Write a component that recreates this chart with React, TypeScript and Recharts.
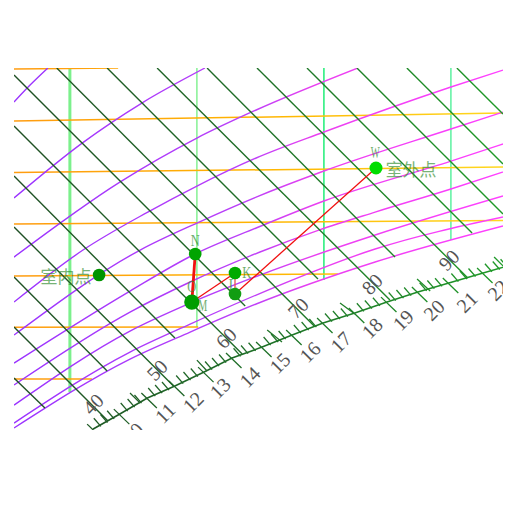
import { ComposedChart, Line, Scatter, XAxis, YAxis } from "recharts";

type Pair = [number, number];

// x = moisture content (g/kg), y = temperature (C)
const xDomain: Pair = [4.68, 16.23];
const yDomain: Pair = [5, 40];

const rhA: Pair[] = [[4.68, 36.71], [5.06, 38.35], [5.48, 40]];
const rhB: Pair[] = [[4.68, 27.43], [6.29, 32.74], [7.7, 36.61], [9.19, 40]];
const rhC: Pair[] = [[4.68, 21.72], [7.18, 28.97], [9, 33.23], [10.4, 35.94], [12.8, 40]];
const rhD: Pair[] = [[4.68, 17.37], [6.31, 22.4], [7.84, 26.07], [9, 28.59], [10.4, 31.3], [12, 33.81], [15, 38.16], [16.23, 39.8]];
const rhE: Pair[] = [[4.68, 14.18], [7.66, 22.4], [9, 25.01], [10.4, 27.52], [12, 30.04], [15, 34.1], [16.23, 35.74]];
const rhF: Pair[] = [[4.68, 11.47], [7.42, 18.43], [8.91, 21.92], [10.4, 24.53], [12, 27.14], [15, 31], [16.23, 32.65]];
const rhG: Pair[] = [[4.68, 9.35], [7.42, 16.4], [8.84, 19.31], [10.49, 22.21], [11.88, 24.33], [13.21, 26.07], [15, 28.3], [16.23, 29.94]];
const rhH: Pair[] = [[4.68, 7.41], [7.42, 14.57], [8.84, 17.27], [10.49, 19.98], [13.21, 23.85], [16.23, 27.62]];
const rhI: Pair[] = [[4.68, 5.67], [7.42, 12.54], [8.84, 15.24], [10.4, 18.05], [13.21, 22.5], [16.23, 25.59]];
const rhJ: Pair[] = [[4.68, 5.19], [7.42, 11.86], [8.84, 14.47], [10.4, 17.18], [13.21, 21.24], [16.23, 24.72]];
const rhCurves = [rhA, rhB, rhC, rhD, rhE, rhF, rhG, rhH, rhI, rhJ];

const enthalpyLines: Pair[][] = [
  [[4.68, 10.02], [5.41, 7.12]],
  [[4.68, 14.95], [6.9, 5.87]],
  [[4.68, 19.79], [6.88, 10.7]],
  [[4.68, 24.62], [8.46, 9.21]],
  [[4.68, 29.55], [8.48, 13.89]],
  [[4.68, 34.39], [10.07, 12.34]],
  [[4.68, 39.32], [10.14, 16.99]],
  [[5.69, 40], [11.77, 15.05]],
  [[6.88, 40], [11.86, 19.59]],
  [[8.06, 40], [13.56, 17.57]],
  [[9.24, 40], [13.68, 21.72]],
  [[10.42, 40], [15.4, 19.69]],
  [[11.6, 40], [15.5, 24.04]],
  [[12.78, 40], [16.23, 25.88]],
  [[13.96, 40], [16.23, 30.71]],
  [[15.14, 40], [16.23, 35.55]],
];

const tempLines: Pair[][] = [
  [[4.68, 39.9], [7.14, 40]],
  [[4.68, 34.87], [16.23, 35.64]],
  [[4.68, 29.89], [16.23, 30.42]],
  [[4.68, 24.91], [16.23, 25.25]],
  [[4.68, 19.88], [12.33, 20.08]],
  [[4.68, 14.93], [9.03, 14.95]],
  [[4.68, 9.93], [6.52, 9.93]],
];

const moistureLines: Pair[][] = [
  [[6, 40], [6, 8.67]],
  [[9, 40], [9, 14.95]],
  [[12, 40], [12, 19.5]],
  [[15, 40], [15, 23.37]],
];
const moistureColors = ["#7cf08c", "#7cf08c", "#1fee77", "#33ee88"];
const moistureWidths = [3, 1.4, 1.5, 1.2];

// saturation temperature scale: 9 to 23 C, one crossing per degree
const scalePoints: Pair[] = [
  [6.55, 5.09], [7.18, 6.54], [7.83, 8.09], [8.48, 9.25], [9.17, 10.6], [9.83, 11.96], [10.54, 13.02], [11.25, 14.18],
  [11.98, 15.34], [12.73, 16.31], [13.49, 17.37], [14.22, 18.34], [14.95, 19.21], [15.76, 20.18], [16.5, 21.05],
];
const longTicks: Pair[][] = [
  [[7.42, 8.57], [7.66, 7.6]],
  [[9, 11.76], [9.24, 10.7]],
  [[10.66, 14.66], [11.01, 13.5]],
  [[12.38, 17.27], [12.73, 16.21]],
  [[14.2, 19.59], [14.51, 18.43]],
  [[16.02, 21.72], [16.28, 20.66]],
];

const scaleLabels = ["10", "11", "12", "13", "14", "15", "16", "17", "18", "19", "20", "21", "22"];
const scaleLabelPos: Pair[] = [
  [7.49, 4.71], [8.25, 6.64], [8.91, 7.7], [9.55, 9.06], [10.25, 10.12], [10.96, 11.47], [11.67, 12.54],
  [12.4, 13.5], [13.14, 14.86], [13.87, 15.63], [14.6, 16.6], [15.38, 17.37], [16.11, 18.53],
];
const enthalpyLabels = ["40", "50", "60", "70", "80", "90"];
const enthalpyLabelPos: Pair[] = [[6.55, 7.51], [8.06, 10.8], [9.69, 13.89], [11.39, 16.79], [13.14, 19.11], [14.95, 21.43]];

// process points
const pointN: Pair = [8.96, 22.01];
const pointM: Pair = [8.88, 17.37];
const pointK: Pair = [9.9, 20.18];
const pointL: Pair = [9.9, 18.15];
const pointW: Pair = [13.23, 30.33];
const pointIn: Pair = [6.69, 19.98];

const pointNames = ["N", "O", "M", "L", "K", "W"];
const pointNamePos: Pair[] = [[8.96, 23.37], [8.88, 18.92], [9.14, 17.08], [9.85, 19.11], [10.18, 20.18], [13.21, 31.87]];
const placeNames = ["室内点", "室外点"];
const placeNamePos: Pair[] = [[5.91, 19.98], [14.06, 30.33]];

const toRows = (pairs: Pair[]) => pairs.map(([d, t]) => ({ d, t }));
const labelRows = (texts: string[], pos: Pair[]) => texts.map((text, i) => ({ d: pos[i][0], t: pos[i][1], text }));

// minor ticks sit on quarter degrees, majors on whole degrees
const scaleTicks: { major: boolean; seg: Pair[] }[] = [];
scalePoints.slice(0, -1).forEach((p, i) => {
  const q = scalePoints[i + 1];
  for (let k = 0; k < 4; k++) {
    const d = p[0] + ((q[0] - p[0]) * k) / 4;
    const t = p[1] + ((q[1] - p[1]) * k) / 4;
    if (k === 0) {
      scaleTicks.push({ major: true, seg: [[d - 0.142, t + 0.48], [d + 0.224, t - 0.97]] });
    } else {
      scaleTicks.push({ major: false, seg: [[d - 0.142, t + 0.68], [d + 0.024, t - 0.1]] });
    }
  }
});

const RotatedLabel = (props: any) => (
  <text
    x={props.cx}
    y={props.cy}
    textAnchor="middle"
    dominantBaseline="central"
    fontFamily="'Liberation Serif', serif"
    fontSize={20}
    fill="#555"
    transform={`rotate(-45 ${props.cx} ${props.cy})`}
  >
    {props.payload.text}
  </text>
);

const LetterLabel = (props: any) => (
  <text
    x={props.cx}
    y={props.cy}
    textAnchor="middle"
    dominantBaseline="central"
    fontFamily="'Liberation Serif', serif"
    fontSize={17}
    textLength={9}
    lengthAdjust="spacingAndGlyphs"
    fill="#2e8b2e"
    opacity={0.7}
  >
    {props.payload.text}
  </text>
);

const PlaceLabel = (props: any) => (
  <text
    x={props.cx}
    y={props.cy}
    textAnchor="middle"
    dominantBaseline="central"
    fontFamily="'Noto Sans CJK SC'"
    fontSize={17}
    fill="#2e8b2e"
    opacity={0.65}
  >
    {props.payload.text}
  </text>
);

const marker = (point: Pair, r: number, fill: string, key: string) => (
  <Scatter
    key={key}
    data={toRows([point])}
    isAnimationActive={false}
    shape={(p: any) => <circle cx={p.cx} cy={p.cy} r={r} fill={fill} />}
  />
);

const plainLine = (pairs: Pair[], stroke: string, width: number, key: string, type: any = "linear") => (
  <Line
    key={key}
    data={toRows(pairs)}
    dataKey="t"
    type={type}
    stroke={stroke}
    strokeWidth={width}
    dot={false}
    activeDot={false}
    isAnimationActive={false}
  />
);

export default function App() {
  return (
    <div style={{ position: "absolute", left: 14, top: 68, width: 489, height: 362, overflow: "hidden" }}>
      <ComposedChart width={489} height={362} margin={{ top: 0, right: 0, bottom: 0, left: 0 }}>
        <defs>
          <linearGradient id="rhStroke" gradientUnits="userSpaceOnUse" x1="0" y1="0" x2="489" y2="0">
            <stop offset="0" stopColor="#9a33ff" />
            <stop offset="0.48" stopColor="#bb40f8" />
            <stop offset="0.62" stopColor="#ea40f0" />
            <stop offset="1" stopColor="#ff40ff" />
          </linearGradient>
          <linearGradient id="tempStroke" gradientUnits="userSpaceOnUse" x1="0" y1="0" x2="489" y2="0">
            <stop offset="0" stopColor="#ff9c10" />
            <stop offset="0.5" stopColor="#ffb400" />
            <stop offset="1" stopColor="#ffd820" />
          </linearGradient>
          <linearGradient id="enthalpyStroke" gradientUnits="userSpaceOnUse" x1="0" y1="0" x2="489" y2="0">
            <stop offset="0" stopColor="#1f4f24" />
            <stop offset="0.5" stopColor="#1f7028" />
            <stop offset="1" stopColor="#1f9a28" />
          </linearGradient>
        </defs>
        <XAxis hide type="number" dataKey="d" domain={xDomain} allowDataOverflow />
        <YAxis hide type="number" dataKey="t" domain={yDomain} allowDataOverflow />

        {moistureLines.map((seg, i) => plainLine(seg, moistureColors[i], moistureWidths[i], `m${i}`))}
        {tempLines.map((seg, i) => plainLine(seg, "url(#tempStroke)", 1.5, `t${i}`))}
        {rhCurves.map((seg, i) => plainLine(seg, "url(#rhStroke)", 1.4, `rh${i}`, "monotone"))}
        {enthalpyLines.map((seg, i) => plainLine(seg, "url(#enthalpyStroke)", 1.4, `h${i}`))}

        {plainLine(scalePoints, "url(#enthalpyStroke)", 1.6, "scale")}
        {scaleTicks.map((tick, i) => plainLine(tick.seg, "url(#enthalpyStroke)", 1.3, `st${i}`))}
        {longTicks.map((seg, i) => plainLine(seg, "url(#enthalpyStroke)", 1.3, `lt${i}`))}

        {plainLine([pointN, pointM], "#f01010", 2.8, "rN")}
        {plainLine([pointM, pointK], "#f01010", 1.3, "rM")}
        {plainLine([pointK, pointL], "#e85050", 1.3, "rK")}
        {plainLine([pointL, pointW], "#f01010", 1.3, "rL")}

        <Scatter data={labelRows(scaleLabels, scaleLabelPos)} isAnimationActive={false} shape={RotatedLabel} />
        <Scatter data={labelRows(enthalpyLabels, enthalpyLabelPos)} isAnimationActive={false} shape={RotatedLabel} />
        <Scatter data={labelRows(pointNames, pointNamePos)} isAnimationActive={false} shape={LetterLabel} />
        <Scatter data={labelRows(placeNames, placeNamePos)} isAnimationActive={false} shape={PlaceLabel} />

        {marker(pointN, 6.3, "#00a400", "pN")}
        {marker(pointM, 7.6, "#009d00", "pM")}
        {marker(pointK, 6.3, "#00aa00", "pK")}
        {marker(pointL, 6.3, "#119d11", "pL")}
        {marker(pointW, 6.5, "#00dd00", "pW")}
        {marker(pointIn, 6.3, "#009400", "pI")}
      </ComposedChart>
    </div>
  );
}
